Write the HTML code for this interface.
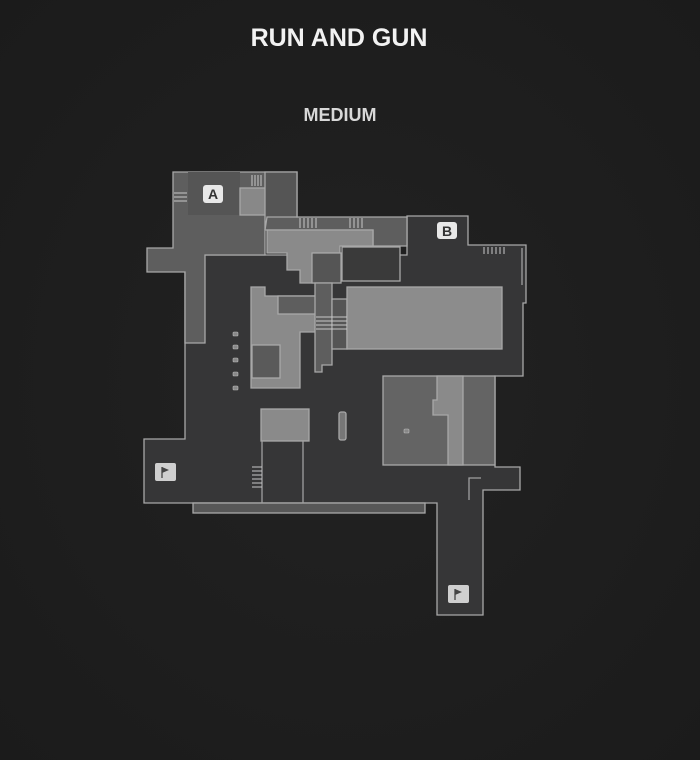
<!DOCTYPE html>
<html><head><meta charset="utf-8"><style>
html,body{margin:0;padding:0;width:700px;height:760px;overflow:hidden;background:#1e1e1e;}
svg{display:block}
</style></head><body>
<svg width="700" height="760" viewBox="0 0 700 760" xmlns="http://www.w3.org/2000/svg">
<defs>
<radialGradient id="bg" cx="0.5" cy="0.5" r="0.7">
<stop offset="0" stop-color="#222222"/><stop offset="1" stop-color="#1b1b1b"/>
</radialGradient>
</defs>
<rect width="700" height="760" fill="url(#bg)"/>
<text x="339" y="46" text-anchor="middle" font-family="Liberation Sans, sans-serif" font-weight="bold" font-size="25" fill="#f2f2f2">RUN AND GUN</text>
<text x="340" y="121" text-anchor="middle" font-family="Liberation Sans, sans-serif" font-weight="bold" font-size="18" fill="#d8d8d8">MEDIUM</text>

<g stroke="#a8a8a8" stroke-width="1.3" stroke-linejoin="miter">
<!-- main dark floor -->
<polygon fill="#363637" points="185,255 407,255 407,216 468,216 468,245 526,245 526,303 523,303 523,376 495,376 495,467 520,467 520,490 483,490 483,615 437,615 437,503 144,503 144,439 185,439"/>
<!-- bottom strip -->
<rect x="193" y="503" width="232" height="10" fill="#575757"/>
<!-- A building -->
<polygon fill="#5e5e5e" points="173,172 297,172 297,217 407,217 407,246 373,246 373,230 265,230 265,255 205,255 205,343 185,343 185,272 147,272 147,248 173,248"/>
<rect x="188" y="172" width="52" height="43" fill="#555" stroke="none"/>
<rect x="240" y="188" width="40" height="27" fill="#888"/>
<polygon fill="#555" points="265,230 265,172 297,172 297,217 267,217"/>
<!-- middle light piece -->
<polygon fill="#8a8a8a" points="267,230 373,230 373,246 340,246 340,253 313,253 313,283 300,283 300,270 287,270 287,253 267,253"/>
<rect x="312" y="253" width="29" height="30" fill="#555"/>
<rect x="342" y="247" width="58" height="34" fill="#3a3a3a"/>
<!-- center-left light L -->
<polygon fill="#8a8a8a" points="251,287 265,287 265,296 316,296 316,332 300,332 300,388 251,388"/>
<rect x="278" y="296" width="38" height="18" fill="#5e5e5e"/>
<rect x="252" y="345" width="28" height="33" fill="#5a5a5a"/>
<polygon fill="#5e5e5e" points="315,283 332,283 332,365 322,365 322,372 315,372"/>
<rect x="332" y="299" width="15" height="50" fill="#555"/>
<rect x="347" y="287" width="155" height="62" fill="#8c8c8c"/>
<!-- bottom right room -->
<rect x="383" y="376" width="112" height="89" fill="#646464"/>
<polygon fill="#8a8a8a" points="437,376 463,376 463,465 448,465 448,415 433,415 433,400 437,400"/>
<!-- center light box -->
<rect x="261" y="409" width="48" height="32" fill="#8a8a8a"/>
<rect x="339" y="412" width="7" height="28" rx="2" fill="#777"/>
</g>
<!-- walls -->
<g stroke="#a0a0a0" stroke-width="1.3" fill="none">
<line x1="262" y1="441" x2="262" y2="503"/>
<line x1="303" y1="441" x2="303" y2="503"/>
<polyline points="469,500 469,478 481,478"/>
<line x1="522" y1="248" x2="522" y2="285"/>
</g>
<!-- stairs -->
<g stroke="#c8c8c8" stroke-width="1">
<line x1="252" y1="175" x2="252" y2="186"/><line x1="255" y1="175" x2="255" y2="186"/><line x1="258" y1="175" x2="258" y2="186"/><line x1="261" y1="175" x2="261" y2="186"/>
<line x1="300" y1="218" x2="300" y2="228"/><line x1="304" y1="218" x2="304" y2="228"/><line x1="308" y1="218" x2="308" y2="228"/><line x1="312" y1="218" x2="312" y2="228"/><line x1="316" y1="218" x2="316" y2="228"/>
<line x1="350" y1="218" x2="350" y2="228"/><line x1="354" y1="218" x2="354" y2="228"/><line x1="358" y1="218" x2="358" y2="228"/><line x1="362" y1="218" x2="362" y2="228"/>
<line x1="484" y1="247" x2="484" y2="254"/><line x1="488" y1="247" x2="488" y2="254"/><line x1="492" y1="247" x2="492" y2="254"/><line x1="496" y1="247" x2="496" y2="254"/><line x1="500" y1="247" x2="500" y2="254"/><line x1="504" y1="247" x2="504" y2="254"/>
<line x1="316" y1="317" x2="347" y2="317"/><line x1="316" y1="321" x2="347" y2="321"/><line x1="316" y1="325" x2="347" y2="325"/><line x1="316" y1="329" x2="347" y2="329"/>
<line x1="252" y1="467" x2="262" y2="467"/><line x1="252" y1="471" x2="262" y2="471"/><line x1="252" y1="475" x2="262" y2="475"/><line x1="252" y1="479" x2="262" y2="479"/><line x1="252" y1="483" x2="262" y2="483"/><line x1="252" y1="487" x2="262" y2="487"/>
<line x1="149" y1="193" x2="149" y2="193"/>
<line x1="174" y1="193" x2="187" y2="193"/><line x1="174" y1="197" x2="187" y2="197"/><line x1="174" y1="201" x2="187" y2="201"/>
</g>
<!-- dots -->
<g fill="#888" stroke="#bbb" stroke-width="0.6">
<rect x="233" y="332" width="5" height="4" rx="1"/><rect x="233" y="345" width="5" height="4" rx="1"/><rect x="233" y="358" width="5" height="4" rx="1"/><rect x="233" y="372" width="5" height="4" rx="1"/><rect x="233" y="386" width="5" height="4" rx="1"/>
<rect x="404" y="429" width="5" height="4" rx="1"/>
</g>
<!-- A / B labels -->
<rect x="203" y="185" width="20" height="18" rx="3" fill="#e8e8e8"/>
<text x="213" y="199" text-anchor="middle" font-family="Liberation Sans, sans-serif" font-weight="bold" font-size="14" fill="#333">A</text>
<rect x="437" y="222" width="20" height="17" rx="3" fill="#e8e8e8"/>
<text x="447" y="236" text-anchor="middle" font-family="Liberation Sans, sans-serif" font-weight="bold" font-size="14" fill="#333">B</text>
<!-- flags -->
<g>
<rect x="155" y="463" width="21" height="18" rx="2" fill="#cfcfcf"/>
<line x1="162" y1="467" x2="162" y2="478" stroke="#444" stroke-width="1.3"/><polygon points="162,467 169,470 162,473" fill="#444"/>
<rect x="448" y="585" width="21" height="18" rx="2" fill="#cfcfcf"/>
<line x1="455" y1="589" x2="455" y2="600" stroke="#444" stroke-width="1.3"/><polygon points="455,589 462,592 455,595" fill="#444"/>
</g>
</svg>
</body></html>
